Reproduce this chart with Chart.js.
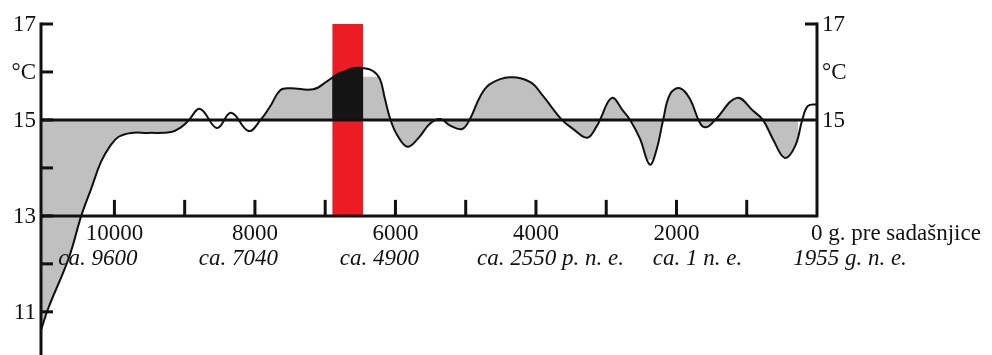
<!DOCTYPE html>
<html>
<head>
<meta charset="utf-8">
<script src="https://cdn.jsdelivr.net/npm/chart.js@4/dist/chart.umd.min.js"></script>
<style>
  html, body { margin: 0; padding: 0; background: #ffffff; }
  #wrap { width: 992px; height: 355px; }
</style>
</head>
<body>
<div id="wrap"><canvas id="c" width="992" height="355"></canvas></div>
<script>
// ---- data (years before present, °C) ----
const years = [11040, 10940, 10650, 10470, 10330, 10190, 10060, 9940, 9760, 9520, 9190, 9050, 8950, 8780, 8540, 8340, 8090, 7920, 7780, 7640, 7500, 7170, 6970, 6830, 6740, 6600, 6460, 6320, 6220, 6150, 6070, 5970, 5830, 5680, 5510, 5360, 5220, 5050, 4940, 4790, 4650, 4370, 4080, 3900, 3630, 3470, 3270, 3130, 3090, 2920, 2760, 2660, 2520, 2380, 2280, 2190, 2090, 1950, 1810, 1660, 1570, 1450, 1140, 910, 770, 630, 460, 310, 210, 130, 0];
const temps = [10.64, 11.08, 12.12, 13.01, 13.57, 14.13, 14.46, 14.65, 14.73, 14.73, 14.75, 14.85, 14.98, 15.23, 14.83, 15.15, 14.77, 15.00, 15.29, 15.62, 15.66, 15.64, 15.81, 15.95, 16.00, 16.08, 16.08, 16.02, 15.85, 15.44, 15.00, 14.67, 14.44, 14.61, 14.92, 15.02, 14.88, 14.81, 15.02, 15.50, 15.75, 15.89, 15.79, 15.50, 15.00, 14.81, 14.63, 14.88, 15.00, 15.46, 15.19, 15.00, 14.61, 14.07, 14.40, 15.00, 15.54, 15.66, 15.44, 14.92, 14.85, 15.00, 15.46, 15.19, 15.00, 14.61, 14.21, 14.46, 15.00, 15.29, 15.33];
const referenceTemp = 15;
const bandYears = [6900, 6460];          // highlighted period
const bandTemps = [17, 13];              // band top / bottom
const yearMin = 0, yearMax = 11045;
const tempMin = 10.1, tempMax = 17;
const leftTickValues = [17, 16, 15, 13, 11];
const leftTickLabels = ['17', '°C', '15', '13', '11'];
const leftTickMarks = [17, 16, 15, 14, 13, 12, 11];
const rightTickValues = [17, 16, 15];
const rightTickLabels = ['17', '°C', '15'];
const xTickMarks = [10000, 9000, 8000, 7000, 6000, 5000, 4000, 3000, 2000, 1000];
const xLabelYears = [10000, 8000, 6000, 4000, 2000, 0];
const xLabels = ['10000', '8000', '6000', '4000', '2000', '0 g. pre sadašnjice'];
const eraLabels = ['ca. 9600', 'ca. 7040', 'ca. 4900', 'ca. 2550 p. n. e.', 'ca. 1 n. e.', '1955 g. n. e.'];

// ---- styling / layout (not data) ----
const eraOffsetPx = [-16.5, -16.5, -16, 14.5, 21, 33];
const grayClip = { leftUntil: 8950, bandFrom: 7920, bandTo: 270, top: 15.9, bottom: 14.17 };
const FONT = "23px 'Liberation Serif', 'Times New Roman', serif";
const FONT_I = "italic 23px 'Liberation Serif', 'Times New Roman', serif";
const INK = '#111111';
const TENSION = 0.4;

const curvePts = years.map((yr, i) => ({ x: yr, y: temps[i] }));

const plugin = {
  id: 'decor',
  afterDatasetDraw(chart, args) {
    const { ctx, chartArea: a, scales: { x, y } } = chart;
    if (args.index === 4) {
      ctx.save();
      ctx.beginPath();
      const xa = x.getPixelForValue(grayClip.leftUntil);
      ctx.rect(a.left, a.top, xa - a.left, a.bottom - a.top);
      const xb1 = x.getPixelForValue(grayClip.bandFrom), xb2 = x.getPixelForValue(grayClip.bandTo);
      const yb1 = y.getPixelForValue(grayClip.top), yb2 = y.getPixelForValue(grayClip.bottom);
      ctx.rect(xb1, yb1, xb2 - xb1, yb2 - yb1);
      ctx.clip();
    } else if (args.index === 3) {
      ctx.restore();
      ctx.save();
      const x1 = x.getPixelForValue(bandYears[0]), x2 = x.getPixelForValue(bandYears[1]);
      ctx.beginPath();
      ctx.rect(x1, a.top, x2 - x1, a.bottom - a.top);
      ctx.clip();
    } else if (args.index === 2) {
      ctx.restore();
    }
  },
  afterDatasetsDraw(chart) {
    const { ctx, chartArea: a, scales: { x, y } } = chart;
    ctx.save();
    ctx.strokeStyle = INK;
    ctx.fillStyle = INK;
    ctx.lineWidth = 3;
    ctx.lineCap = 'butt';
    const L = a.left, R = a.right;
    const y13 = y.getPixelForValue(13);
    const y17 = y.getPixelForValue(17);
    ctx.beginPath();
    ctx.moveTo(L, y17 - 1.5); ctx.lineTo(L, a.bottom);
    ctx.stroke();
    leftTickMarks.forEach(v => {
      const py = y.getPixelForValue(v);
      ctx.beginPath(); ctx.moveTo(L, py); ctx.lineTo(L + 12, py); ctx.stroke();
    });
    ctx.beginPath();
    ctx.moveTo(R, y17 - 1.5); ctx.lineTo(R, y13 + 1.5);
    ctx.stroke();
    ctx.beginPath(); ctx.moveTo(R - 12, y17); ctx.lineTo(R, y17); ctx.stroke();
    ctx.beginPath(); ctx.moveTo(L, y13); ctx.lineTo(R, y13); ctx.stroke();
    xTickMarks.forEach(v => {
      const px = x.getPixelForValue(v);
      ctx.beginPath(); ctx.moveTo(px, y13); ctx.lineTo(px, y13 - 16); ctx.stroke();
    });
    ctx.font = FONT;
    ctx.textBaseline = 'middle';
    ctx.textAlign = 'right';
    leftTickValues.forEach((v, i) => ctx.fillText(leftTickLabels[i], L - 5, y.getPixelForValue(v) + 1));
    ctx.textAlign = 'left';
    rightTickValues.forEach((v, i) => ctx.fillText(rightTickLabels[i], R + 5, y.getPixelForValue(v) + 1));
    ctx.textBaseline = 'alphabetic';
    xLabelYears.forEach((v, i) => {
      const px = x.getPixelForValue(v);
      ctx.font = FONT;
      if (v === 0) { ctx.textAlign = 'left'; ctx.fillText(xLabels[i], px - 6, y13 + 24); }
      else { ctx.textAlign = 'center'; ctx.fillText(xLabels[i], px, y13 + 24); }
      ctx.font = FONT_I;
      ctx.textAlign = 'center';
      ctx.fillText(eraLabels[i], px + eraOffsetPx[i], y13 + 49);
    });
    ctx.restore();
  }
};

new Chart(document.getElementById('c'), {
  type: 'line',
  data: {
    datasets: [
      { data: curvePts, borderColor: INK, borderWidth: 2, pointRadius: 0, tension: TENSION, fill: false },
      { data: [{ x: yearMax, y: referenceTemp }, { x: yearMin, y: referenceTemp }],
        borderColor: INK, borderWidth: 3, pointRadius: 0, fill: false },
      { data: curvePts, borderWidth: 0, pointRadius: 0, tension: TENSION,
        fill: { value: referenceTemp }, backgroundColor: '#141414' },
      { data: curvePts, borderWidth: 0, pointRadius: 0, tension: TENSION,
        fill: { value: referenceTemp }, backgroundColor: '#c0c0c0' },
      { data: [{ x: bandYears[0], y: bandTemps[0] }, { x: bandYears[1], y: bandTemps[0] }],
        borderWidth: 0, pointRadius: 0, fill: { value: bandTemps[1] }, backgroundColor: '#ed1c24' }
    ]
  },
  options: {
    responsive: false,
    animation: false,
    devicePixelRatio: 1,
    layout: { padding: { left: 41, right: 175, top: 24, bottom: 0 } },
    plugins: { legend: { display: false }, tooltip: { enabled: false } },
    scales: {
      x: { type: 'linear', reverse: true, min: yearMin, max: yearMax, display: false },
      y: { type: 'linear', min: tempMin, max: tempMax, display: false }
    }
  },
  plugins: [plugin]
});
</script>
</body>
</html>
